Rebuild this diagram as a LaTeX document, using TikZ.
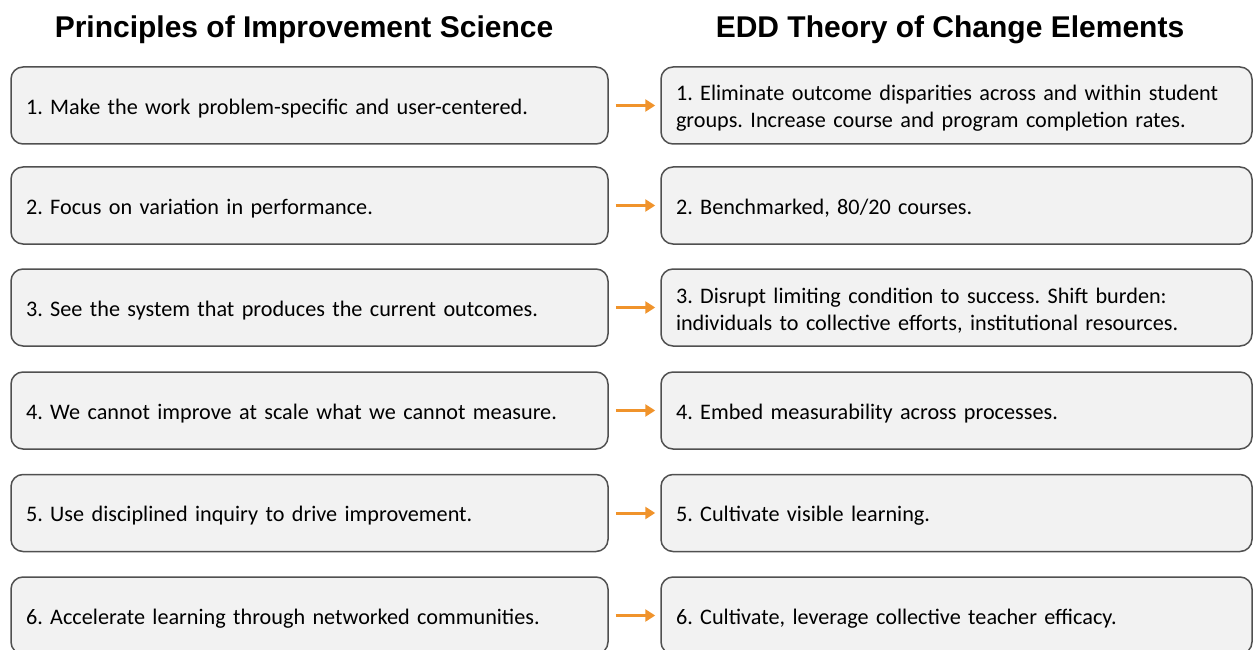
\documentclass[tikz,border=0pt]{standalone}
\usepackage{fontspec}
\setmainfont{Carlito}
\newfontfamily\titlefont{Liberation Sans}
\usetikzlibrary{arrows.meta}
\definecolor{boxfill}{HTML}{F2F2F2}
\definecolor{boxline}{HTML}{505050}
\definecolor{arrowc}{HTML}{F0932B}
\frenchspacing
\begin{document}
\begin{tikzpicture}[x=1pt,y=-1pt,
  lbox/.style={draw=boxline, line width=1.5pt, fill=boxfill, rounded corners=12pt,
    text width=567pt, inner xsep=15pt, inner ysep=0pt, minimum height=77pt,
    align=left, font=\fontsize{22.2}{27}\selectfont,
    execute at begin node={\rule{0pt}{21.5pt}}},
  rbox/.style={lbox, text width=561pt},
  ttl/.style={font=\titlefont\bfseries\fontsize{30}{34}\selectfont, inner sep=0pt},
  arr/.style={draw=arrowc, line width=3pt, -{Triangle[length=10pt,width=12pt]},
    shorten <=7pt, shorten >=5pt}]
\useasboundingbox (0,0) rectangle (1254,650);
\node[ttl] (t1) at (304,30) {Principles of Improvement Science};
\node[ttl] (t2) at (950,30) {EDD Theory of Change Elements};
\node[lbox] (L1) at (309.5,105.5) {1. Make the work problem-specific and user-centered.};
\node[lbox] (L2) at (309.5,205.5) {2. Focus on variation in performance.};
\node[lbox] (L3) at (309.5,307.5) {3. See the system that produces the current outcomes.};
\node[lbox] (L4) at (309.5,410.5) {4. We cannot improve at scale what we cannot measure.};
\node[lbox] (L5) at (309.5,513) {5. Use disciplined inquiry to drive improvement.};
\node[lbox] (L6) at (309.5,615.5) {6. Accelerate learning through networked communities.};
\node[rbox] (R1) at (956.5,105.5) {1. Eliminate outcome disparities across and within student\\groups. Increase course and program completion rates.};
\node[rbox] (R2) at (956.5,205.5) {2. Benchmarked, 80/20 courses.};
\node[rbox] (R3) at (956.5,307.5) {3. Disrupt limiting condition to success. Shift burden:\\individuals to collective efforts, institutional resources.};
\node[rbox] (R4) at (956.5,410.5) {4. Embed measurability across processes.};
\node[rbox] (R5) at (956.5,513) {5. Cultivate visible learning.};
\node[rbox] (R6) at (956.5,615.5) {6. Cultivate, leverage collective teacher efficacy.};
\foreach \i in {1,...,6} \draw[arr] (L\i) -- (R\i);
\end{tikzpicture}
\end{document}
